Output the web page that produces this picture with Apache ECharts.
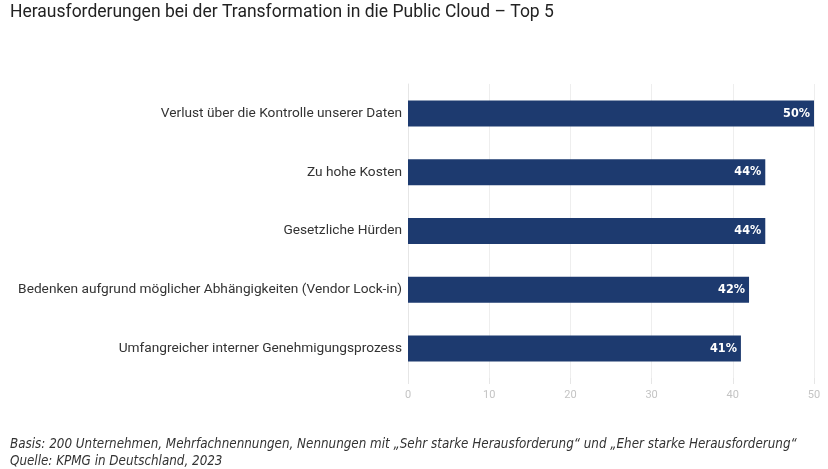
<!DOCTYPE html>
<html><head><meta charset="utf-8">
<script src="https://cdn.jsdelivr.net/npm/echarts@6/dist/echarts.min.js"></script>
<style>html,body{margin:0;padding:0;background:#fff}#c{width:828px;height:469px}</style>
</head><body><div id="c"></div>
<script>
const categories = [
  "Verlust über die Kontrolle unserer Daten",
  "Zu hohe Kosten",
  "Gesetzliche Hürden",
  "Bedenken aufgrund möglicher Abhängigkeiten (Vendor Lock-in)",
  "Umfangreicher interner Genehmigungsprozess"
];
const values = [50, 44, 44, 42, 41];
const xTicks = [0, 10, 20, 30, 40, 50];
const title = "Herausforderungen bei der Transformation in die Public Cloud – Top 5";
const note1 = "Basis: 200 Unternehmen, Mehrfachnennungen, Nennungen mit „Sehr starke Herausforderung“ und „Eher starke Herausforderung“";
const note2 = "Quelle: KPMG in Deutschland, 2023";

const chart = echarts.init(document.getElementById('c'));
chart.setOption({
  animation: false,
  graphic: [
    {type:'text', left: 10, top: 4, style:{text: title, font: '17.5px Roboto, sans-serif', fill:'#222'}},
    {type:'text', left: 10, top: 438, style:{text: note1, font: 'italic 13.3px "Liberation Sans Narrow", "DejaVu Sans Condensed", sans-serif', fill:'#333'}},
    {type:'text', left: 10, top: 455, style:{text: note2, font: 'italic 13.3px "Liberation Sans Narrow", "DejaVu Sans Condensed", sans-serif', fill:'#333'}}
  ],
  grid: {left: 408, right: 14, top: 84, bottom: 91, containLabel: false},
  xAxis: {
    type: 'value', min: xTicks[0], max: xTicks[xTicks.length-1], interval: 10,
    axisLine: {show: false},
    axisTick: {show: true, length: 6, lineStyle: {color: '#e6e6e6'}},
    axisLabel: {color: '#c4c4c4', fontSize: 11, fontFamily: 'Roboto, sans-serif', margin: 12},
    splitLine: {show: true, lineStyle: {color: '#eeeeee'}}
  },
  yAxis: {
    type: 'category', data: categories, inverse: true,
    axisLine: {show: true, lineStyle: {color: '#e6e6e6'}},
    axisTick: {show: false},
    axisLabel: {color: '#333', fontSize: 13.7, fontFamily: 'Roboto, sans-serif', margin: 6}
  },
  series: [{
    type: 'bar', data: values, barWidth: 26,
    itemStyle: {color: '#1d3a6f'},
    label: {show: true, position: 'insideRight', distance: 4, formatter: '{c}%', color: '#fff',
      fontWeight: 'bold', fontSize: 12.5, fontFamily: '"Liberation Sans Narrow", "DejaVu Sans Condensed", sans-serif'}
  }]
});
</script></body></html>
